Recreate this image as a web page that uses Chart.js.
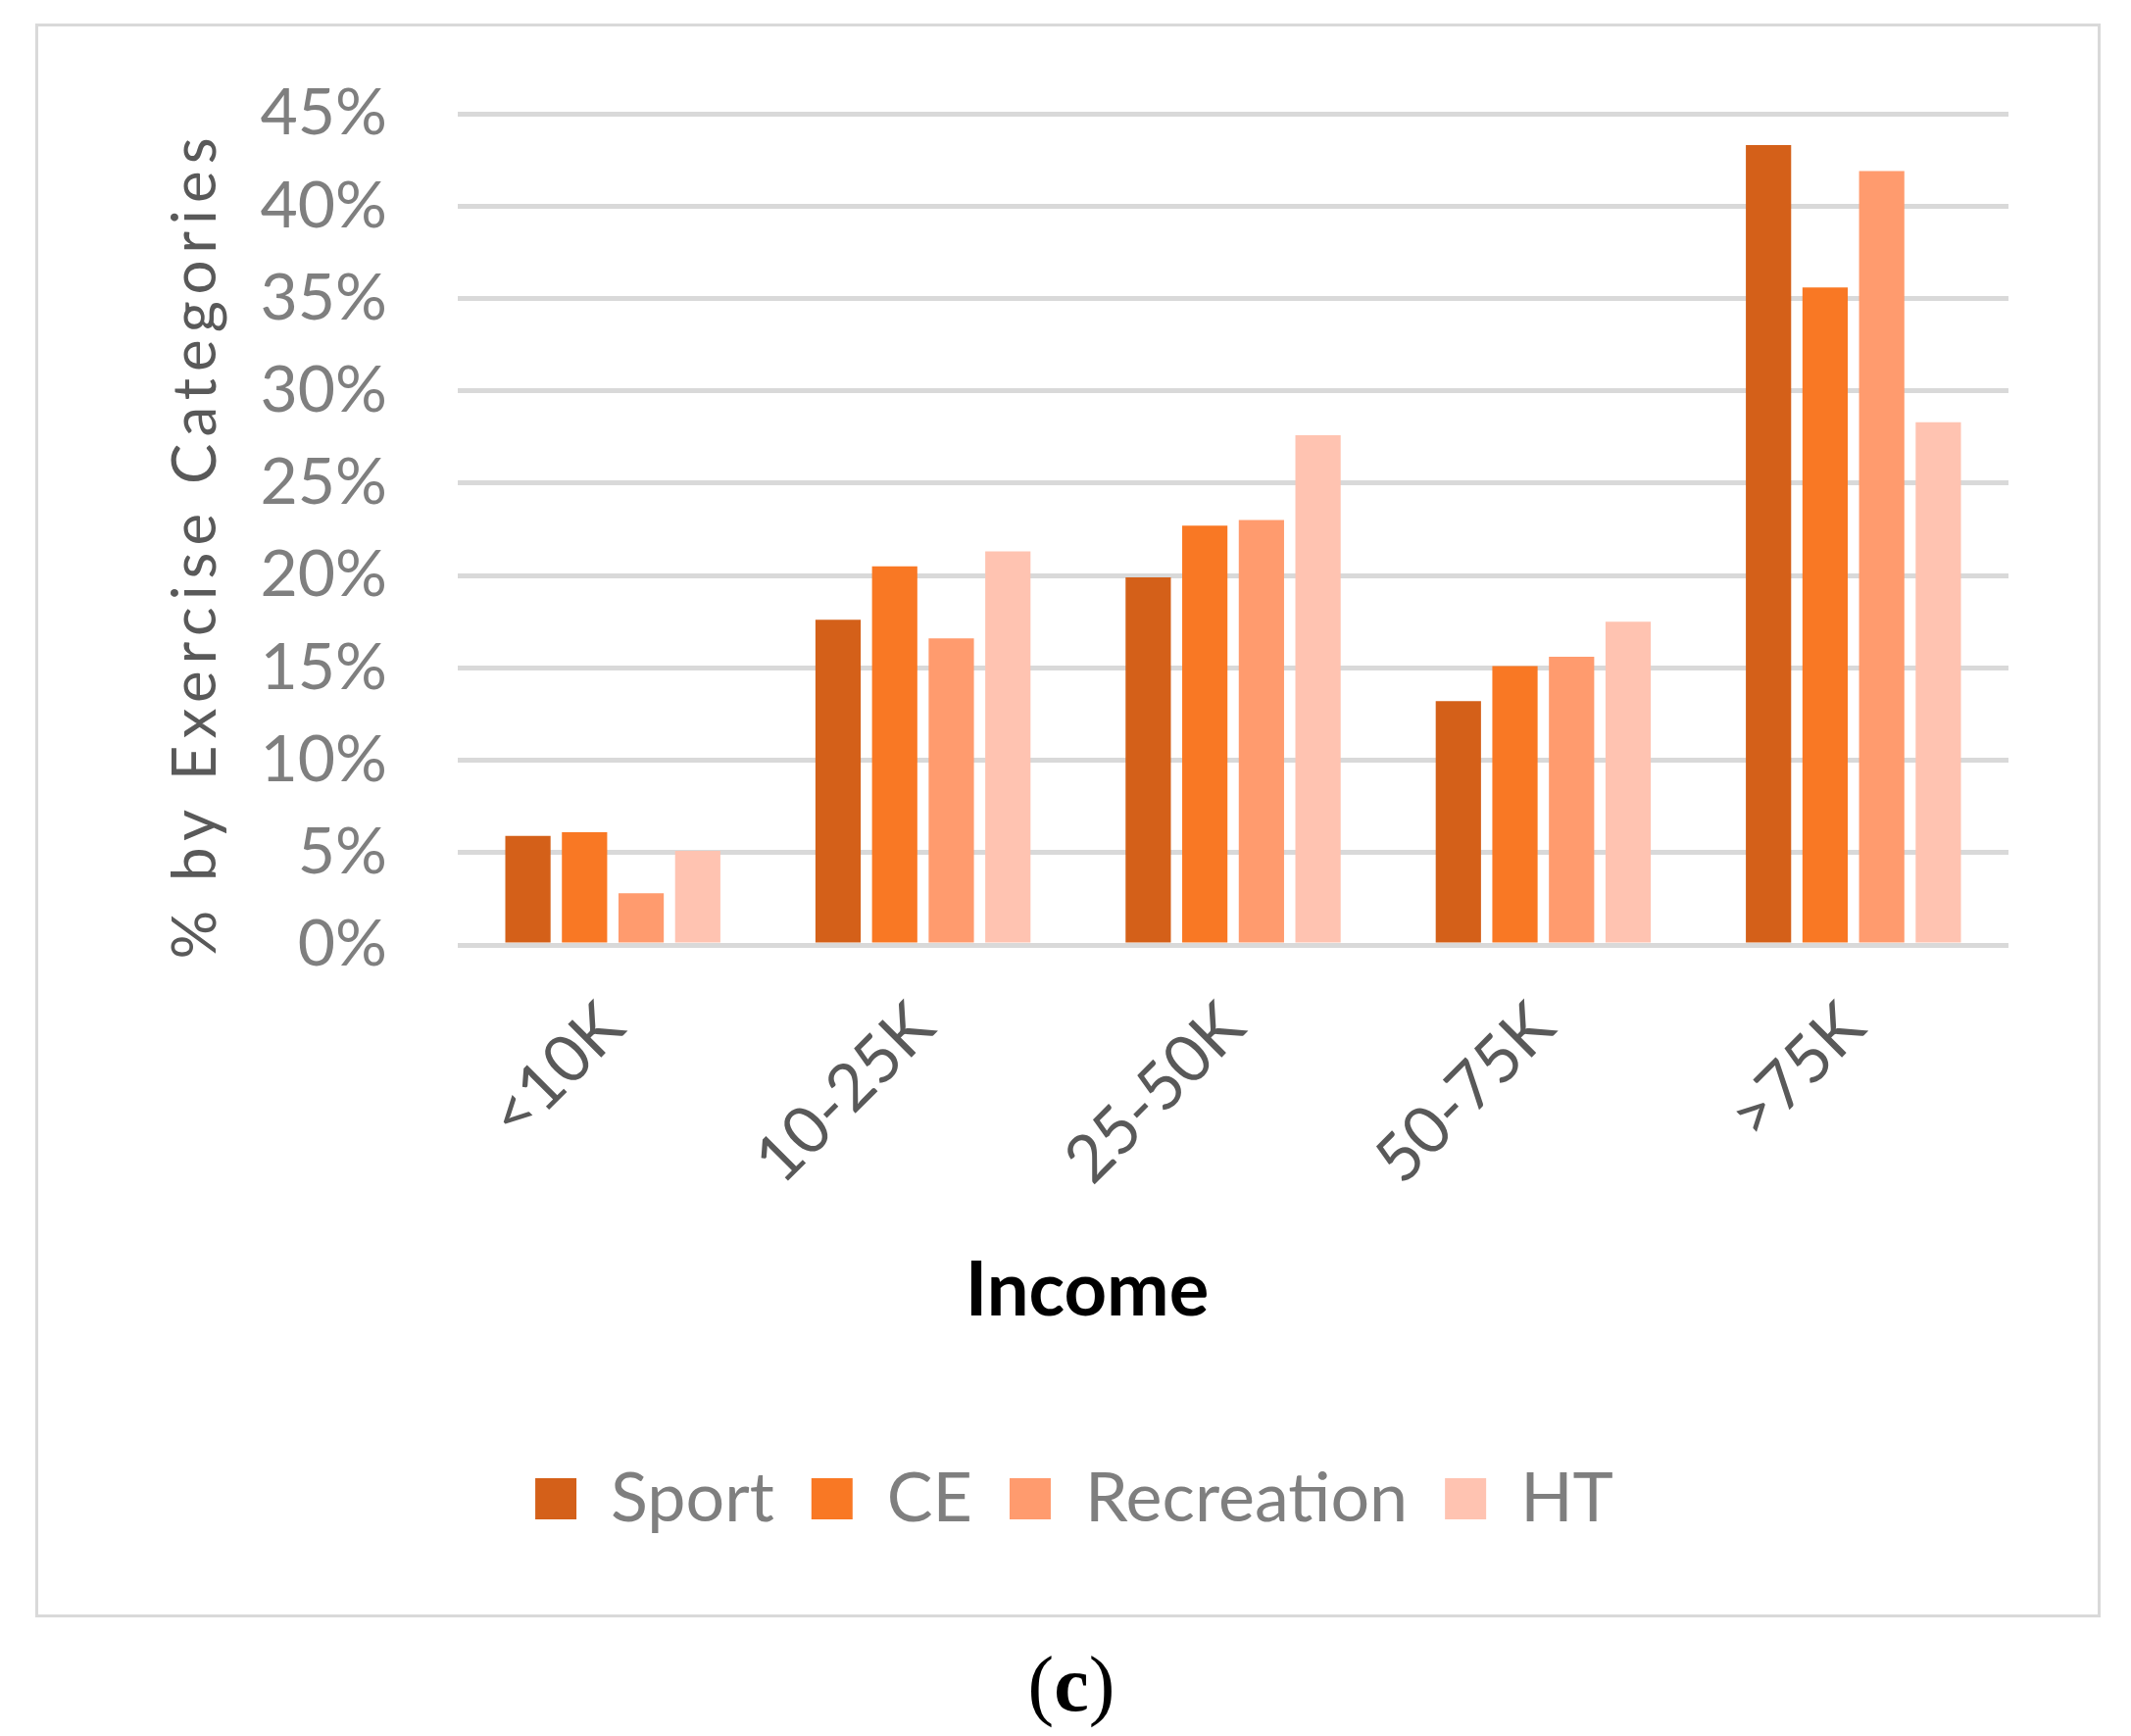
<!DOCTYPE html>
<html>
<head>
<meta charset="utf-8">
<title>Income by exercise categories</title>
<script src="https://cdn.jsdelivr.net/npm/chart.js@4.4.1/dist/chart.umd.min.js"></script>
<style>
    html, body { margin: 0; padding: 0; background: #fff; overflow: hidden; }
    body { width: 2174px; height: 1771px; position: relative; }
    #frame { position: absolute; left: 36px; top: 24px; width: 2101px; height: 1620px; border: 3px solid #d9d9d9; }
    #chart { position: absolute; left: 0; top: 0; }
    #caption { position: absolute; left: 0; top: 1670px; width: 2186px; text-align: center;
               font: 80px "Liberation Serif", serif; line-height: 96px; color: #000; }
    #caption b { font-weight: bold; }
</style>
</head>
<body>
<div id="frame"></div>
<canvas id="chart" width="2174" height="1771"></canvas>
<div id="caption">(<b>c</b>)</div>

<script>
// ---- data (percent) ----
const incomeGroups = ['<10K', '10-25K', '25-50K', '50-75K', '>75K'];
const sportValues = [5.9, 17.6, 19.9, 13.2, 43.3];
const ceValues = [6.1, 20.5, 22.7, 15.1, 35.6];
const recreationValues = [2.8, 16.6, 23.0, 15.6, 41.9];
const htValues = [5.1, 21.3, 27.6, 17.5, 28.3];
const seriesNames = ['Sport', 'CE', 'Recreation', 'HT'];
const yMax = 45;
const yStep = 5;

const colors = ['#d46019', '#f97824', '#ff9b6e', '#ffc3b1'];
const FONT = 'Lato, "Noto Sans", sans-serif';

// Axis titles drawn by hand: the y title needs letter spacing and
// "Income" is not centred on the plot area in the original.
const axisTitlePlugin = {
    id: 'axisTitles',
    afterDraw(chart) {
        const ctx = chart.ctx;
        const area = chart.chartArea;

        ctx.save();
        ctx.translate(area.left - 267, 556);
        ctx.rotate(-Math.PI / 2);
        ctx.font = '62px ' + FONT;
        ctx.letterSpacing = '7px';
        ctx.fillStyle = '#595959';
        ctx.textAlign = 'center';
        ctx.textBaseline = 'middle';
        ctx.fillText('% by Exercise Categories', 0, 0);
        ctx.restore();

        ctx.save();
        ctx.font = 'bold 76px ' + FONT;
        ctx.fillStyle = '#000';
        ctx.textAlign = 'center';
        ctx.textBaseline = 'middle';
        ctx.fillText('Income', area.left + 642, area.bottom + 353);
        ctx.restore();
    }
};

const seriesValues = [sportValues, ceValues, recreationValues, htValues];

new Chart(document.getElementById('chart'), {
    type: 'bar',
    data: {
        labels: incomeGroups,
        datasets: seriesNames.map((name, i) => ({
            label: name,
            data: seriesValues[i],
            backgroundColor: colors[i],
            borderWidth: 0,
            categoryPercentage: 0.73,
            barPercentage: 0.8
        }))
    },
    options: {
        responsive: false,
        animation: false,
        devicePixelRatio: 1,
        layout: { padding: { top: 116, left: 18, right: 0, bottom: 197 } },
        plugins: {
            tooltip: { enabled: false },
            legend: {
                position: 'bottom',
                labels: {
                    color: '#7f7f7f',
                    font: { family: FONT, size: 70 },
                    boxWidth: 42,
                    boxHeight: 42,
                    padding: 38
                }
            }
        },
        scales: {
            x: {
                grid: { display: false },
                border: { display: false },
                ticks: {
                    color: '#595959',
                    font: { family: FONT, size: 67 },
                    minRotation: 45,
                    maxRotation: 45,
                    autoSkip: false,
                    padding: 36
                },
                afterFit(scale) { scale.height = 492; }
            },
            y: {
                min: 0,
                max: yMax,
                grid: { color: '#d9d9d9', lineWidth: 5, drawTicks: false },
                border: { display: false },
                ticks: {
                    stepSize: yStep,
                    color: '#7f7f7f',
                    font: { family: FONT, size: 66 },
                    padding: 72,
                    callback: v => v + '%'
                },
                afterFit(scale) { scale.width = 449; }
            },
            yRight: {
                position: 'right',
                grid: { display: false },
                border: { display: false },
                ticks: { display: false },
                afterFit(scale) { scale.width = 125; }
            }
        }
    },
    plugins: [axisTitlePlugin]
});
</script>
</body>
</html>
